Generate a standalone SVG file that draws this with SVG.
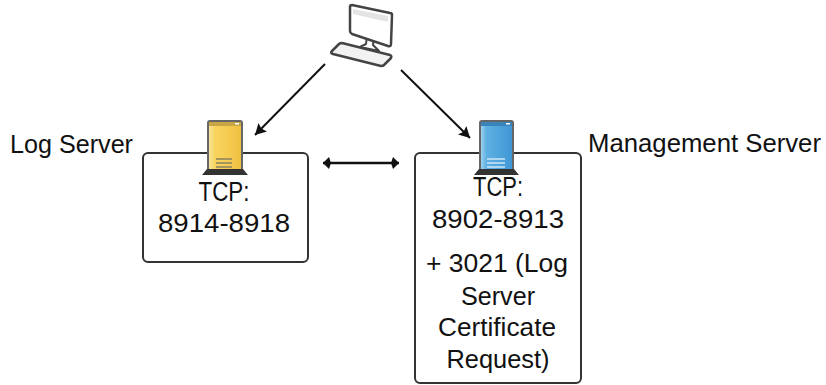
<svg xmlns="http://www.w3.org/2000/svg" width="826" height="385" viewBox="0 0 826 385">
<defs>
<marker id="a" markerUnits="userSpaceOnUse" markerWidth="14" markerHeight="14" refX="11" refY="6" orient="auto"><path d="M0 0L11 6L0 12L2 6Z" fill="#111"/></marker>
<marker id="d" markerUnits="userSpaceOnUse" markerWidth="12" markerHeight="14" refX="8" refY="6.5" orient="auto-start-reverse"><path d="M0 6.5L2 0.5L8 6.5L2 12.5Z" fill="#111"/></marker>
<linearGradient id="y" x1="0" x2="1" y1="0" y2="0"><stop offset="0" stop-color="#f8e7a8"/><stop offset=".2" stop-color="#f8d560"/><stop offset="1" stop-color="#f0c040"/></linearGradient>
<linearGradient id="b" x1="0" x2="1" y1="0" y2="0"><stop offset="0" stop-color="#a6d6f0"/><stop offset=".2" stop-color="#5db0e2"/><stop offset="1" stop-color="#3f96d4"/></linearGradient>
</defs>
<style>
text{font-family:"Liberation Sans",Arial,sans-serif;font-size:25px;fill:#111}
.c{text-anchor:middle}
.t{font-size:27px}
.box{fill:#fff;stroke:#333;stroke-width:2}
.ln{stroke:#111;stroke-width:2;fill:none}
.base{fill:#333}
.tw{stroke:#666;stroke-width:2;stroke-linejoin:round}
.gr{stroke:#8a8060;stroke-width:1.5}
.pc{fill:#fff;stroke:#444;stroke-width:2.5;stroke-linejoin:round}
</style>
<g id="connectors">
<line class="ln" x1="325" y1="64" x2="255" y2="135" marker-end="url(#a)"/>
<line class="ln" x1="401" y1="70" x2="470" y2="138" marker-end="url(#a)"/>
<line class="ln" style="stroke-width:2.5" x1="323" y1="163" x2="399" y2="163" marker-start="url(#d)" marker-end="url(#d)"/>
</g>
<g id="computer">
<path class="pc" style="stroke-width:2" d="M367 36L366 44L360 47L379 51L373 45L374 38Z"/>
<path class="pc" d="M352 5L390 13Q392 13 392 15L391 44Q391 47 388 46L352 34Q350 33 350 31L350 7Q350 5 352 5Z"/>
<path d="M353 9L388 16V22L353 14Z" fill="#e4e4e4"/>
<path class="pc" style="fill:#f2f2f2" d="M342 43L390 55Q392 56 391 58L384 65Q383 66 381 66L333 54Q330 53 332 51L339 44Q340 43 342 43Z"/>
</g>
<g id="log-server">
<rect class="box" x="143" y="153" width="165" height="109" rx="5"/>
<rect x="208" y="121" width="34" height="52" rx="2" fill="url(#y)" class="tw"/>
<rect x="209" y="122" width="32" height="4" fill="#c9a645"/>
<rect x="235" y="123" width="4" height="1.5" fill="#fff"/>
<path class="base" d="M207 169H243L248 175H202Z"/>
<line class="gr" x1="216" y1="159" x2="232" y2="159"/>
<line class="gr" x1="216" y1="163" x2="232" y2="163"/>
<line class="gr" x1="216" y1="167" x2="232" y2="167"/>
<text class="c t" x="224" y="201" textLength="51" lengthAdjust="spacingAndGlyphs">TCP:</text>
<text class="c" x="224" y="232" textLength="132" lengthAdjust="spacingAndGlyphs">8914-8918</text>
<text x="10" y="153" textLength="123" lengthAdjust="spacingAndGlyphs">Log Server</text>
</g>
<g id="management-server">
<rect class="box" x="415" y="153" width="166" height="230" rx="5"/>
<rect x="480" y="121" width="33" height="52" rx="2" fill="url(#b)" class="tw"/>
<rect x="481" y="122" width="31" height="4" fill="#3b84bb"/>
<rect x="506" y="123" width="4" height="1.5" fill="#fff"/>
<path class="base" d="M479 169H514L519 175H474Z"/>
<line class="gr" style="stroke:#cde6f5" x1="487" y1="159" x2="505" y2="159"/>
<line class="gr" style="stroke:#cde6f5" x1="487" y1="163" x2="505" y2="163"/>
<line class="gr" style="stroke:#cde6f5" x1="487" y1="167" x2="505" y2="167"/>
<text class="c t" x="498" y="196" textLength="50" lengthAdjust="spacingAndGlyphs">TCP:</text>
<text class="c" x="498" y="228" textLength="132" lengthAdjust="spacingAndGlyphs">8902-8913</text>
<text class="c" x="497" y="272" textLength="142" lengthAdjust="spacingAndGlyphs">+ 3021 (Log</text>
<text class="c" x="498" y="305" textLength="74" lengthAdjust="spacingAndGlyphs">Server</text>
<text class="c" x="497" y="336" textLength="118" lengthAdjust="spacingAndGlyphs">Certificate</text>
<text class="c" x="498" y="368" textLength="103" lengthAdjust="spacingAndGlyphs">Request)</text>
<text x="588" y="152" textLength="233" lengthAdjust="spacingAndGlyphs">Management Server</text>
</g>
</svg>
